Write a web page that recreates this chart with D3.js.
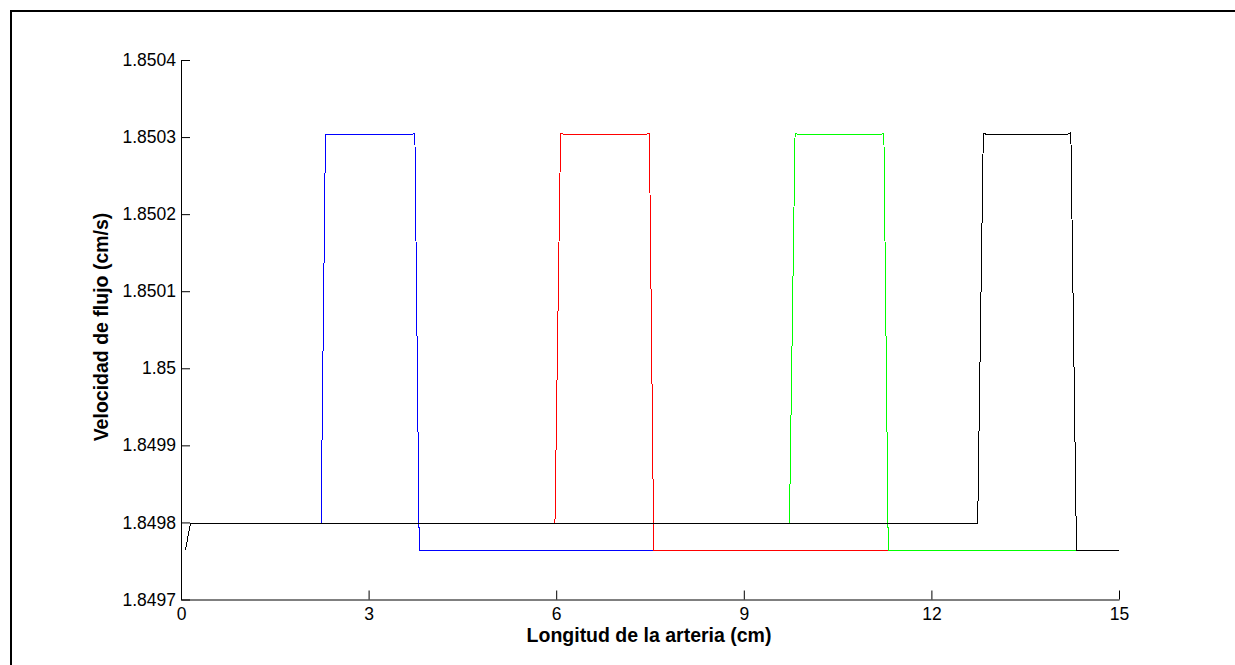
<!DOCTYPE html>
<html>
<head>
<meta charset="utf-8">
<script src="https://cdn.jsdelivr.net/npm/d3@7"></script>
<style>
  html, body { margin: 0; padding: 0; background: #fff; }
  svg { display: block; }
  text { font-family: "Liberation Sans", Arial, sans-serif; }
</style>
</head>
<body>
<svg id="chart" width="1235" height="665"></svg>
<script>
// ---- data ----
const xTicks = [0, 3, 6, 9, 12, 15];
const yTicks = [1.8497, 1.8498, 1.8499, 1.85, 1.8501, 1.8502, 1.8503, 1.8504];
const yTickLabels = ["1.8497", "1.8498", "1.8499", "1.85", "1.8501", "1.8502", "1.8503", "1.8504"];

const seriesNames = ["blue", "red", "green", "black"];
const seriesColors = ["#0000ff", "#ff0000", "#00ff00", "#000000"];

const blueX  = [0.07, 0.15, 2.24, 2.31, 3.67, 3.74, 3.81, 15];
const blueY  = [1.849764, 1.849798, 1.849798, 1.850303, 1.850303, 1.850305, 1.849764, 1.849764];

const redX   = [0.07, 0.15, 5.98, 6.07, 6.14, 7.42, 7.49, 7.56, 15];
const redY   = [1.849764, 1.849798, 1.849798, 1.850305, 1.850303, 1.850303, 1.850305, 1.849764, 1.849764];

const greenX = [0.07, 0.15, 9.73, 9.82, 9.89, 11.17, 11.24, 11.31, 15];
const greenY = [1.849764, 1.849798, 1.849798, 1.850305, 1.850303, 1.850303, 1.850305, 1.849764, 1.849764];

const blackX = [0.07, 0.15, 12.74, 12.83, 12.90, 14.16, 14.23, 14.32, 15];
const blackY = [1.849764, 1.849798, 1.849798, 1.850305, 1.850303, 1.850303, 1.850306, 1.849764, 1.849764];

const seriesX = [blueX, redX, greenX, blackX];
const seriesY = [blueY, redY, greenY, blackY];

// ---- drawing ----
const svg = d3.select("#chart");
const W = 1235, H = 665;

svg.append("rect").attr("x", 0).attr("y", 0).attr("width", W).attr("height", H).attr("fill", "#fff");

// outer frame (top and left visible)
svg.append("line").attr("x1", 11).attr("x2", W).attr("y1", 11).attr("y2", 11)
  .attr("stroke", "#000").attr("stroke-width", 2);
svg.append("line").attr("x1", 11).attr("x2", 11).attr("y1", 10).attr("y2", H)
  .attr("stroke", "#000").attr("stroke-width", 2);

const x = d3.scaleLinear().domain([0, 15]).range([181, 1119]);
const y = d3.scaleLinear().domain([1.8497, 1.8504]).range([599.5, 60]);

// series
const line = d3.line().x(d => x(d[0])).y(d => y(d[1]));
seriesNames.forEach((name, i) => {
  const pts = seriesX[i].map((v, j) => [v, seriesY[i][j]]);
  svg.append("path")
    .attr("d", line(pts))
    .attr("fill", "none")
    .attr("stroke", seriesColors[i])
    .attr("stroke-width", 1)
    .attr("shape-rendering", "crispEdges");
});

// x axis (ticks inward)
const xAxis = d3.axisBottom(x).tickValues(xTicks).tickSize(-9).tickSizeOuter(0).tickPadding(0)
  .tickFormat(d3.format("d"));
const gx = svg.append("g").attr("transform", `translate(0,${y(1.8497)})`).call(xAxis);
gx.select(".domain").attr("stroke", "#000");
gx.selectAll(".tick line").attr("stroke", "#000");
gx.selectAll(".tick text").attr("font-size", 17.5).attr("fill", "#000")
  .attr("font-family", "Liberation Sans, Arial, sans-serif")
  .attr("dy", null).attr("y", 20.5);

// y axis (ticks inward)
const yAxis = d3.axisLeft(y).tickValues(yTicks).tickSize(-9).tickSizeOuter(0).tickPadding(5)
  .tickFormat((d, i) => yTickLabels[i]);
const gy = svg.append("g").attr("transform", `translate(${x(0)},0)`).call(yAxis);
gy.select(".domain").attr("stroke", "#000");
gy.selectAll(".tick line").attr("stroke", "#000");
gy.selectAll(".tick text").attr("font-size", 17.5).attr("fill", "#000")
  .attr("font-family", "Liberation Sans, Arial, sans-serif")
  .attr("x", -5);

// axis titles
svg.append("text")
  .attr("x", 649).attr("y", 642)
  .attr("text-anchor", "middle")
  .attr("font-size", 19.5).attr("font-weight", "bold")
  .text("Longitud de la arteria (cm)");

svg.append("text")
  .attr("transform", "translate(108,327) rotate(-90)")
  .attr("text-anchor", "middle")
  .attr("font-size", 19.5).attr("font-weight", "bold")
  .text("Velocidad de flujo (cm/s)");
</script>
</body>
</html>
